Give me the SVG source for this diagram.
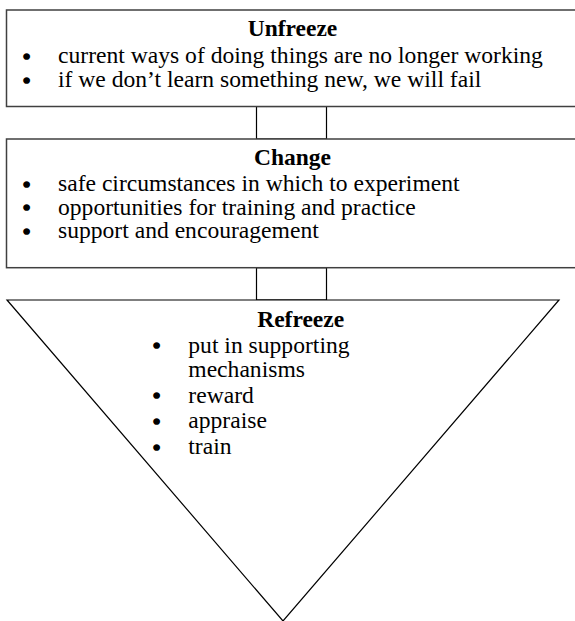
<svg xmlns="http://www.w3.org/2000/svg" width="575" height="621" viewBox="0 0 575 621">
<style>
.box{fill:#fff;stroke:#404040;stroke-width:1.5}
.link{fill:none;stroke:#000;stroke-width:1.2}
.tri{fill:#fff;stroke:#000;stroke-width:1.2}
text{font-family:"Liberation Serif","Times New Roman",serif;fill:#000}
.title{font-size:23.5px;font-weight:bold;text-anchor:middle}
.item{font-size:23.6px}
.bul{font-size:22px;text-anchor:middle;stroke:#000;stroke-width:1.6}
</style>
<rect width="575" height="621" fill="#fff"/>
<g id="connectors">
<rect class="link" x="256.5" y="106.5" width="70" height="32.5"/>
<rect class="link" x="256.5" y="267.7" width="70" height="32.3"/>
</g>
<g id="unfreeze">
<rect class="box" x="6.5" y="10" width="573" height="96.5"/>
<text class="title" x="292.5" y="36">Unfreeze</text>
<text class="bul" x="26.7" y="64">•</text>
<text class="item" x="58" y="63.3">current ways of doing things are no longer working</text>
<text class="bul" x="26.7" y="88">•</text>
<text class="item" x="58" y="87.3">if we don’t learn something new, we will fail</text>
</g>
<g id="change">
<rect class="box" x="6.5" y="139" width="573" height="128.7"/>
<text class="title" x="292.5" y="164.7">Change</text>
<text class="bul" x="26.7" y="191.7">•</text>
<text class="item" x="58" y="191">safe circumstances in which to experiment</text>
<text class="bul" x="26.7" y="215.2">•</text>
<text class="item" x="58" y="214.5">opportunities for training and practice</text>
<text class="bul" x="26.7" y="238.7">•</text>
<text class="item" x="58" y="238">support and encouragement</text>
</g>
<g id="refreeze">
<polygon class="tri" points="7,300 559,300 283,621"/>
<text class="title" x="300.7" y="326.7">Refreeze</text>
<text class="bul" x="156.7" y="353.4">•</text>
<text class="item" x="188.3" y="352.7">put in supporting</text>
<text class="item" x="188.3" y="377">mechanisms</text>
<text class="bul" x="156.7" y="403.4">•</text>
<text class="item" x="188.3" y="402.7">reward</text>
<text class="bul" x="156.7" y="428.7">•</text>
<text class="item" x="188.3" y="428">appraise</text>
<text class="bul" x="156.7" y="454.7">•</text>
<text class="item" x="188.3" y="454">train</text>
</g>
</svg>
